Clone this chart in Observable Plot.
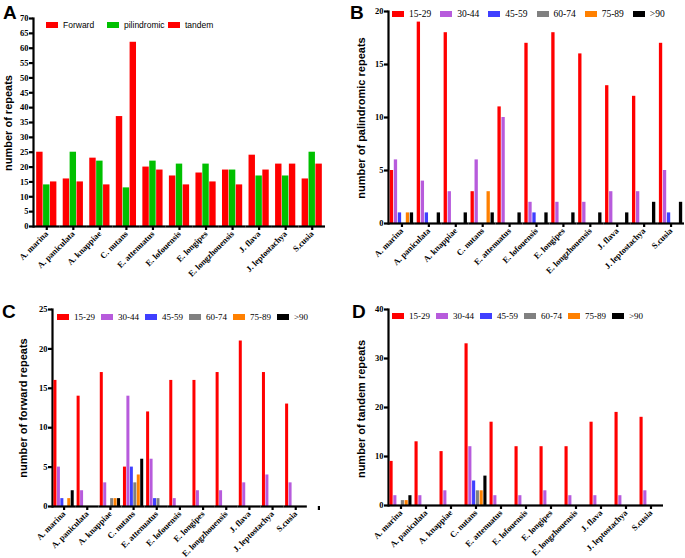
<!DOCTYPE html>
<html><head><meta charset="utf-8">
<script src="https://cdn.jsdelivr.net/npm/d3@7"></script>
<script src="https://cdn.jsdelivr.net/npm/@observablehq/plot@0.6"></script>
<style>
html,body{margin:0;padding:0;background:#fff;}
#fig{position:relative;width:685px;height:558px;overflow:hidden;background:#fff;}
.panel{position:absolute;}
.panel svg{display:block;overflow:visible;}
.panel svg line,.panel svg path{stroke-width:2.2px;}
.letter{position:absolute;font:bold 19px "Liberation Sans",Arial,sans-serif;line-height:1;}
.ytitle{position:absolute;font:bold 11px "Liberation Sans",Arial,sans-serif;white-space:nowrap;transform:translate(-50%,-50%) rotate(-90deg);}
.legend{position:absolute;display:flex;align-items:center;white-space:nowrap;line-height:1;}
.legend .item{display:flex;align-items:center;}
.legend .sw{width:12px;height:6px;margin-right:5px;}
</style>
</head><body>
<div id="fig"></div>
<script>
// ---------- data ----------
const species = ["A. marina","A. paniculata","A. knappiae","C. nutans","E. attenuatus","E. lofouensis","E. longipes","E. longzhouensis","J. flava","J. leptostachya","S.cusia"];

// Panel A: totals per repeat type
const repeatTypes = ["Forward","pilindromic","tandem"];
const repeatTypeColors = ["#ff0000","#00c000","#ff0000"];
const forwardTotal     = [25,16,23,37,20,17,18,19,24,21,16];
const palindromicTotal = [14,25,22,13,22,21,21,19,17,17,25];
const tandemTotal      = [15,15,14,62,19,14,15,14,19,21,21];

// Length classes (B, C, D)
const lengthClasses = ["15-29","30-44","45-59","60-74","75-89",">90"];
const lengthColors  = ["#ff0000","#b75bdc","#3f3fff","#808080","#ff8000","#000000"];

// Panel B: palindromic repeats by length
const pal15_29 = [5,19,18,3,11,17,18,16,13,12,17];
const pal30_44 = [6,4,3,6,10,2,2,2,3,3,5];
const pal45_59 = [1,1,0,0,0,1,0,0,0,0,1];
const pal60_74 = [0,0,0,0,0,0,0,0,0,0,0];
const pal75_89 = [1,0,0,3,0,0,0,0,0,0,0];
const pal90    = [1,1,1,1,1,1,1,1,1,2,2];

// Panel C: forward repeats by length
const fwd15_29 = [16,14,17,5,12,16,16,17,21,17,13];
const fwd30_44 = [5,2,3,14,6,1,2,2,3,4,3];
const fwd45_59 = [1,0,0,5,1,0,0,0,0,0,0];
const fwd60_74 = [0,0,1,3,1,0,0,0,0,0,0];
const fwd75_89 = [1,0,1,4,0,0,0,0,0,0,0];
const fwd90    = [2,0,1,6,0,0,0,0,0,0,0];

// Panel D: tandem repeats by length
const tan15_29 = [9,13,11,33,17,12,12,12,17,19,18];
const tan30_44 = [2,2,3,12,2,2,3,2,2,2,3];
const tan45_59 = [0,0,0,5,0,0,0,0,0,0,0];
const tan60_74 = [1,0,0,3,0,0,0,0,0,0,0];
const tan75_89 = [1,0,0,3,0,0,0,0,0,0,0];
const tan90    = [2,0,0,6,0,0,0,0,0,0,0];

// ---------- helpers ----------
function longRows(cats, names, arrays) {
  const rows = [];
  cats.forEach((c, i) => names.forEach((n, j) => rows.push({cat: c, series: n, value: arrays[j][i]})));
  return rows;
}
const fig = document.getElementById("fig");

function panel(o) {
  const chart = Plot.plot({
    width: 342, height: 279,
    marginLeft: o.ml, marginRight: o.mr, marginTop: o.mt, marginBottom: o.mb,
    style: {fontFamily: '"Liberation Serif","Times New Roman",serif', fontWeight: "bold", fontSize: "8.5px", color: "#000", background: "none", overflow: "visible"},
    fx: {domain: o.fxDomain, padding: 0, round: false, label: null, axis: "bottom", tickRotate: -45, tickSize: 4, tickPadding: 2},
    x: {domain: o.series, axis: null, round: false, paddingInner: o.pin, paddingOuter: o.pout},
    y: {domain: [0, o.yMax], ticks: d3.range(0, o.yMax + 0.001, o.yStep), label: null, line: true, tickSize: 4, tickPadding: 1, axis: "left"},
    color: {domain: o.series, range: o.colors},
    marks: [
      Plot.barY(o.rows, {fx: "cat", x: "series", y: "value", fill: "series"}),
      Plot.ruleY([0])
    ]
  });
  const d = document.createElement("div");
  d.className = "panel";
  d.style.left = o.left + "px"; d.style.top = o.top + "px";
  d.appendChild(chart);
  fig.appendChild(d);
}
function addText(cls, txt, x, y) {
  const d = document.createElement("div");
  d.className = cls; d.textContent = txt;
  d.style.left = x + "px"; d.style.top = y + "px";
  fig.appendChild(d);
}
function addLegend(names, colors, x, y, font, gap, minW) {
  const d = document.createElement("div");
  d.className = "legend";
  d.style.left = x + "px"; d.style.top = y + "px";
  d.style.font = font; d.style.gap = gap + "px";
  names.forEach((n, i) => {
    const it = document.createElement("div"); it.className = "item";
    if (minW) it.style.minWidth = minW + "px";
    const sw = document.createElement("span"); sw.className = "sw"; sw.style.background = colors[i];
    const t = document.createElement("span"); t.textContent = n;
    it.appendChild(sw); it.appendChild(t); d.appendChild(it);
  });
  fig.appendChild(d);
}

// ---------- panels ----------
panel({rows: longRows(species, repeatTypes, [forwardTotal, palindromicTotal, tandemTotal]),
  fxDomain: species, series: repeatTypes, colors: repeatTypeColors, yMax: 70, yStep: 5,
  left: 0, top: 0, ml: 33, mr: 17, mt: 18, mb: 53, pin: 0.07, pout: 0.46});
panel({rows: longRows(species, lengthClasses, [pal15_29, pal30_44, pal45_59, pal60_74, pal75_89, pal90]),
  fxDomain: species, series: lengthClasses, colors: lengthColors, yMax: 20, yStep: 5,
  left: 343, top: 0, ml: 45, mr: 1, mt: 11, mb: 56, pin: 0.17, pout: 0.45});
panel({rows: longRows(species, lengthClasses, [fwd15_29, fwd30_44, fwd45_59, fwd60_74, fwd75_89, fwd90]),
  fxDomain: [...species, " "], series: lengthClasses, colors: lengthColors, yMax: 25, yStep: 5,
  left: 0, top: 279, ml: 52, mr: 12, mt: 30, mb: 52, pin: 0.13, pout: 0.42});
panel({rows: longRows(species, lengthClasses, [tan15_29, tan30_44, tan45_59, tan60_74, tan75_89, tan90]),
  fxDomain: species, series: lengthClasses, colors: lengthColors, yMax: 40, yStep: 10,
  left: 343, top: 279, ml: 45, mr: 22, mt: 30, mb: 53, pin: 0.17, pout: 0.4});

// ---------- letters, titles, legends ----------
addText("letter", "A", 3, 3);
addText("letter", "B", 350, 3);
addText("letter", "C", 2, 302);
addText("letter", "D", 352, 302);
addText("ytitle", "number of repeats", 8, 123);
addText("ytitle", "number of palindromic repeats", 361, 118);
addText("ytitle", "number of forward repeats", 23, 408);
addText("ytitle", "number of tandem repeats", 361, 409);
addLegend(repeatTypes, repeatTypeColors, 46, 20, '8.5px "Liberation Sans",Arial,sans-serif', 0, 61);
addLegend(lengthClasses, lengthColors, 392, 9, '9.5px "Liberation Serif","Times New Roman",serif', 9, 0);
addLegend(lengthClasses, lengthColors, 57, 312, '9px "Liberation Serif","Times New Roman",serif', 6, 0);
addLegend(lengthClasses, lengthColors, 392, 311, '9px "Liberation Serif","Times New Roman",serif', 6, 0);
</script>
</body></html>
